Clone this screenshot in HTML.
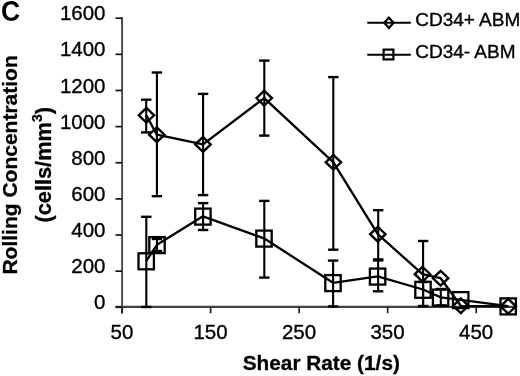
<!DOCTYPE html>
<html><head><meta charset="utf-8"><style>
html,body{margin:0;padding:0;background:#fff;width:520px;height:376px;overflow:hidden}
svg{display:block;will-change:transform;filter:blur(0.3px)}
text{font-family:"Liberation Sans",sans-serif;fill:#000}
.tl{font-size:20.5px;stroke:#000;stroke-width:0.35px}
.lg{font-size:19px;stroke:#000;stroke-width:0.35px}
.ti{font-size:20.8px;font-weight:bold;stroke:#000;stroke-width:0.3px}
.C{font-size:28.8px;font-weight:bold}
</style></head><body>
<svg width="520" height="376" viewBox="0 0 520 376">
<line x1="122.1" y1="17.2" x2="122.1" y2="313.5" stroke="#474747" stroke-width="1.9"/>
<line x1="115.5" y1="306.9" x2="516" y2="306.9" stroke="#404040" stroke-width="2.1"/>
<line x1="115.5" y1="307.30" x2="122" y2="307.30" stroke="#111" stroke-width="1.7"/>
<text x="105.5" y="309.40" class="tl" text-anchor="end">0</text>
<line x1="115.5" y1="271.16" x2="122" y2="271.16" stroke="#111" stroke-width="1.7"/>
<text x="105.5" y="273.26" class="tl" text-anchor="end">200</text>
<line x1="115.5" y1="235.02" x2="122" y2="235.02" stroke="#111" stroke-width="1.7"/>
<text x="105.5" y="237.12" class="tl" text-anchor="end">400</text>
<line x1="115.5" y1="198.89" x2="122" y2="198.89" stroke="#111" stroke-width="1.7"/>
<text x="105.5" y="200.99" class="tl" text-anchor="end">600</text>
<line x1="115.5" y1="162.75" x2="122" y2="162.75" stroke="#111" stroke-width="1.7"/>
<text x="105.5" y="164.85" class="tl" text-anchor="end">800</text>
<line x1="115.5" y1="126.61" x2="122" y2="126.61" stroke="#111" stroke-width="1.7"/>
<text x="105.5" y="128.71" class="tl" text-anchor="end">1000</text>
<line x1="115.5" y1="90.47" x2="122" y2="90.47" stroke="#111" stroke-width="1.7"/>
<text x="105.5" y="92.57" class="tl" text-anchor="end">1200</text>
<line x1="115.5" y1="54.33" x2="122" y2="54.33" stroke="#111" stroke-width="1.7"/>
<text x="105.5" y="56.43" class="tl" text-anchor="end">1400</text>
<line x1="115.5" y1="18.20" x2="122" y2="18.20" stroke="#111" stroke-width="1.7"/>
<text x="105.5" y="20.30" class="tl" text-anchor="end">1600</text>
<line x1="122.10" y1="306.9" x2="122.10" y2="313.3" stroke="#222" stroke-width="1.7"/>
<text x="122.00" y="339.3" class="tl" text-anchor="middle">50</text>
<line x1="210.63" y1="306.9" x2="210.63" y2="313.3" stroke="#222" stroke-width="1.7"/>
<text x="210.53" y="339.3" class="tl" text-anchor="middle">150</text>
<line x1="299.16" y1="306.9" x2="299.16" y2="313.3" stroke="#222" stroke-width="1.7"/>
<text x="299.06" y="339.3" class="tl" text-anchor="middle">250</text>
<line x1="387.69" y1="306.9" x2="387.69" y2="313.3" stroke="#222" stroke-width="1.7"/>
<text x="387.59" y="339.3" class="tl" text-anchor="middle">350</text>
<line x1="476.22" y1="306.9" x2="476.22" y2="313.3" stroke="#222" stroke-width="1.7"/>
<text x="476.12" y="339.3" class="tl" text-anchor="middle">450</text>
<line x1="146.2" y1="99.7" x2="146.2" y2="132.4" stroke="#000" stroke-width="2.1"/>
<line x1="141.0" y1="99.7" x2="151.39999999999998" y2="99.7" stroke="#000" stroke-width="2.4"/>
<line x1="141.0" y1="132.4" x2="151.39999999999998" y2="132.4" stroke="#000" stroke-width="2.4"/>
<line x1="156.9" y1="72.5" x2="156.9" y2="196.2" stroke="#000" stroke-width="2.1"/>
<line x1="151.70000000000002" y1="72.5" x2="162.1" y2="72.5" stroke="#000" stroke-width="2.4"/>
<line x1="151.70000000000002" y1="196.2" x2="162.1" y2="196.2" stroke="#000" stroke-width="2.4"/>
<line x1="203.1" y1="93.9" x2="203.1" y2="195.1" stroke="#000" stroke-width="2.1"/>
<line x1="197.9" y1="93.9" x2="208.29999999999998" y2="93.9" stroke="#000" stroke-width="2.4"/>
<line x1="197.9" y1="195.1" x2="208.29999999999998" y2="195.1" stroke="#000" stroke-width="2.4"/>
<line x1="264.3" y1="60.6" x2="264.3" y2="135.6" stroke="#000" stroke-width="2.1"/>
<line x1="259.1" y1="60.6" x2="269.5" y2="60.6" stroke="#000" stroke-width="2.4"/>
<line x1="259.1" y1="135.6" x2="269.5" y2="135.6" stroke="#000" stroke-width="2.4"/>
<line x1="333.3" y1="77.1" x2="333.3" y2="249.7" stroke="#000" stroke-width="2.1"/>
<line x1="328.1" y1="77.1" x2="338.5" y2="77.1" stroke="#000" stroke-width="2.4"/>
<line x1="328.1" y1="249.7" x2="338.5" y2="249.7" stroke="#000" stroke-width="2.4"/>
<line x1="378.2" y1="210.2" x2="378.2" y2="259.4" stroke="#000" stroke-width="2.1"/>
<line x1="373.0" y1="210.2" x2="383.4" y2="210.2" stroke="#000" stroke-width="2.4"/>
<line x1="373.0" y1="259.4" x2="383.4" y2="259.4" stroke="#000" stroke-width="2.4"/>
<line x1="423.1" y1="241.0" x2="423.1" y2="306.0" stroke="#000" stroke-width="2.1"/>
<line x1="417.90000000000003" y1="241.0" x2="428.3" y2="241.0" stroke="#000" stroke-width="2.4"/>
<line x1="417.90000000000003" y1="306.0" x2="428.3" y2="306.0" stroke="#000" stroke-width="2.4"/>
<line x1="146.3" y1="216.8" x2="146.3" y2="307.0" stroke="#000" stroke-width="2.1"/>
<line x1="141.10000000000002" y1="216.8" x2="151.5" y2="216.8" stroke="#000" stroke-width="2.4"/>
<line x1="141.10000000000002" y1="307.0" x2="151.5" y2="307.0" stroke="#000" stroke-width="2.4"/>
<line x1="157.0" y1="239.0" x2="157.0" y2="251.0" stroke="#000" stroke-width="2.1"/>
<line x1="151.8" y1="239.0" x2="162.2" y2="239.0" stroke="#000" stroke-width="2.4"/>
<line x1="151.8" y1="251.0" x2="162.2" y2="251.0" stroke="#000" stroke-width="2.4"/>
<line x1="203.1" y1="203.1" x2="203.1" y2="230.0" stroke="#000" stroke-width="2.1"/>
<line x1="197.9" y1="203.1" x2="208.29999999999998" y2="203.1" stroke="#000" stroke-width="2.4"/>
<line x1="197.9" y1="230.0" x2="208.29999999999998" y2="230.0" stroke="#000" stroke-width="2.4"/>
<line x1="264.3" y1="200.9" x2="264.3" y2="277.6" stroke="#000" stroke-width="2.1"/>
<line x1="259.1" y1="200.9" x2="269.5" y2="200.9" stroke="#000" stroke-width="2.4"/>
<line x1="259.1" y1="277.6" x2="269.5" y2="277.6" stroke="#000" stroke-width="2.4"/>
<line x1="333.1" y1="260.6" x2="333.1" y2="306.4" stroke="#000" stroke-width="2.1"/>
<line x1="327.90000000000003" y1="260.6" x2="338.3" y2="260.6" stroke="#000" stroke-width="2.4"/>
<line x1="327.90000000000003" y1="306.4" x2="338.3" y2="306.4" stroke="#000" stroke-width="2.4"/>
<line x1="378.1" y1="260.4" x2="378.1" y2="291.3" stroke="#000" stroke-width="2.1"/>
<line x1="372.90000000000003" y1="260.4" x2="383.3" y2="260.4" stroke="#000" stroke-width="2.4"/>
<line x1="372.90000000000003" y1="291.3" x2="383.3" y2="291.3" stroke="#000" stroke-width="2.4"/>
<line x1="423.1" y1="282.0" x2="423.1" y2="306.2" stroke="#000" stroke-width="2.1"/>
<line x1="417.90000000000003" y1="282.0" x2="428.3" y2="282.0" stroke="#000" stroke-width="2.4"/>
<line x1="417.90000000000003" y1="306.2" x2="428.3" y2="306.2" stroke="#000" stroke-width="2.4"/>
<line x1="440.8" y1="289.0" x2="440.8" y2="305.5" stroke="#000" stroke-width="2.1"/>
<line x1="435.6" y1="289.0" x2="446.0" y2="289.0" stroke="#000" stroke-width="2.4"/>
<line x1="435.6" y1="305.5" x2="446.0" y2="305.5" stroke="#000" stroke-width="2.4"/>
<polyline points="146.4,115.3 156.8,134.7 203.0,144.4 264.2,98.1 333.4,162.3 377.8,234.2 422.5,274.2 440.6,278.2 460.8,305.8 508.2,306.3" fill="none" stroke="#000" stroke-width="2.3" stroke-linejoin="round"/>
<polyline points="146.2,261.0 157.0,244.8 202.9,216.3 264.0,238.3 333.0,282.8 377.6,276.3 423.0,289.5 440.6,297.3 460.7,299.8 508.2,306.1" fill="none" stroke="#000" stroke-width="2.3" stroke-linejoin="round"/>
<path d="M138.70,115.3 L146.4,107.90 L154.10,115.3 L146.4,122.70 Z" fill="none" stroke="#000" stroke-width="2.35" stroke-linejoin="miter"/>
<path d="M149.10,134.7 L156.8,127.30 L164.50,134.7 L156.8,142.10 Z" fill="none" stroke="#000" stroke-width="2.35" stroke-linejoin="miter"/>
<path d="M195.30,144.4 L203.0,137.00 L210.70,144.4 L203.0,151.80 Z" fill="none" stroke="#000" stroke-width="2.35" stroke-linejoin="miter"/>
<path d="M256.50,98.1 L264.2,90.70 L271.90,98.1 L264.2,105.50 Z" fill="none" stroke="#000" stroke-width="2.35" stroke-linejoin="miter"/>
<path d="M325.70,162.3 L333.4,154.90 L341.10,162.3 L333.4,169.70 Z" fill="none" stroke="#000" stroke-width="2.35" stroke-linejoin="miter"/>
<path d="M370.10,234.2 L377.8,226.80 L385.50,234.2 L377.8,241.60 Z" fill="none" stroke="#000" stroke-width="2.35" stroke-linejoin="miter"/>
<path d="M414.80,274.2 L422.5,266.80 L430.20,274.2 L422.5,281.60 Z" fill="none" stroke="#000" stroke-width="2.35" stroke-linejoin="miter"/>
<path d="M432.90,278.2 L440.6,270.80 L448.30,278.2 L440.6,285.60 Z" fill="none" stroke="#000" stroke-width="2.35" stroke-linejoin="miter"/>
<path d="M453.10,305.8 L460.8,298.40 L468.50,305.8 L460.8,313.20 Z" fill="none" stroke="#000" stroke-width="2.35" stroke-linejoin="miter"/>
<path d="M500.50,306.3 L508.2,298.90 L515.90,306.3 L508.2,313.70 Z" fill="none" stroke="#000" stroke-width="2.35" stroke-linejoin="miter"/>
<rect x="138.50" y="253.30" width="15.40" height="16.00" fill="none" stroke="#000" stroke-width="2.3"/>
<rect x="149.30" y="237.10" width="15.40" height="16.00" fill="none" stroke="#000" stroke-width="2.3"/>
<rect x="195.20" y="208.60" width="15.40" height="16.00" fill="none" stroke="#000" stroke-width="2.3"/>
<rect x="256.30" y="230.60" width="15.40" height="16.00" fill="none" stroke="#000" stroke-width="2.3"/>
<rect x="325.30" y="275.10" width="15.40" height="16.00" fill="none" stroke="#000" stroke-width="2.3"/>
<rect x="369.90" y="268.60" width="15.40" height="16.00" fill="none" stroke="#000" stroke-width="2.3"/>
<rect x="415.30" y="281.80" width="15.40" height="16.00" fill="none" stroke="#000" stroke-width="2.3"/>
<rect x="432.90" y="289.60" width="15.40" height="16.00" fill="none" stroke="#000" stroke-width="2.3"/>
<rect x="453.00" y="292.10" width="15.40" height="16.00" fill="none" stroke="#000" stroke-width="2.3"/>
<rect x="500.50" y="298.40" width="15.40" height="16.00" fill="none" stroke="#000" stroke-width="2.3"/>
<line x1="367.3" y1="22.8" x2="410.8" y2="22.8" stroke="#000" stroke-width="2"/>
<path d="M384.3,22.8 L388.9,17.6 L393.5,22.8 L388.9,28 Z" fill="none" stroke="#000" stroke-width="2.2"/>
<line x1="367.3" y1="54.8" x2="410.8" y2="54.8" stroke="#000" stroke-width="2"/>
<rect x="383.6" y="49.6" width="9.8" height="9.8" fill="none" stroke="#000" stroke-width="2.2"/>
<text x="415.2" y="26.2" class="lg">CD34+ ABM</text>
<text x="415.2" y="58.4" class="lg">CD34- ABM</text>
<text transform="translate(1.0,20.7) scale(0.92,1)" class="C">C</text>
<text x="321.3" y="370.0" class="ti" text-anchor="middle">Shear Rate (1/s)</text>
<text transform="translate(16.8,164.9) rotate(-90)" class="ti" style="font-size:21px" text-anchor="middle">Rolling Concentration</text>
<text transform="translate(50.8,164.8) rotate(-90)" class="ti" style="font-size:21.8px" text-anchor="middle">(cells/mm<tspan dy="-8.5" font-size="14">3</tspan><tspan dy="8.5">)</tspan></text>
</svg>
</body></html>
